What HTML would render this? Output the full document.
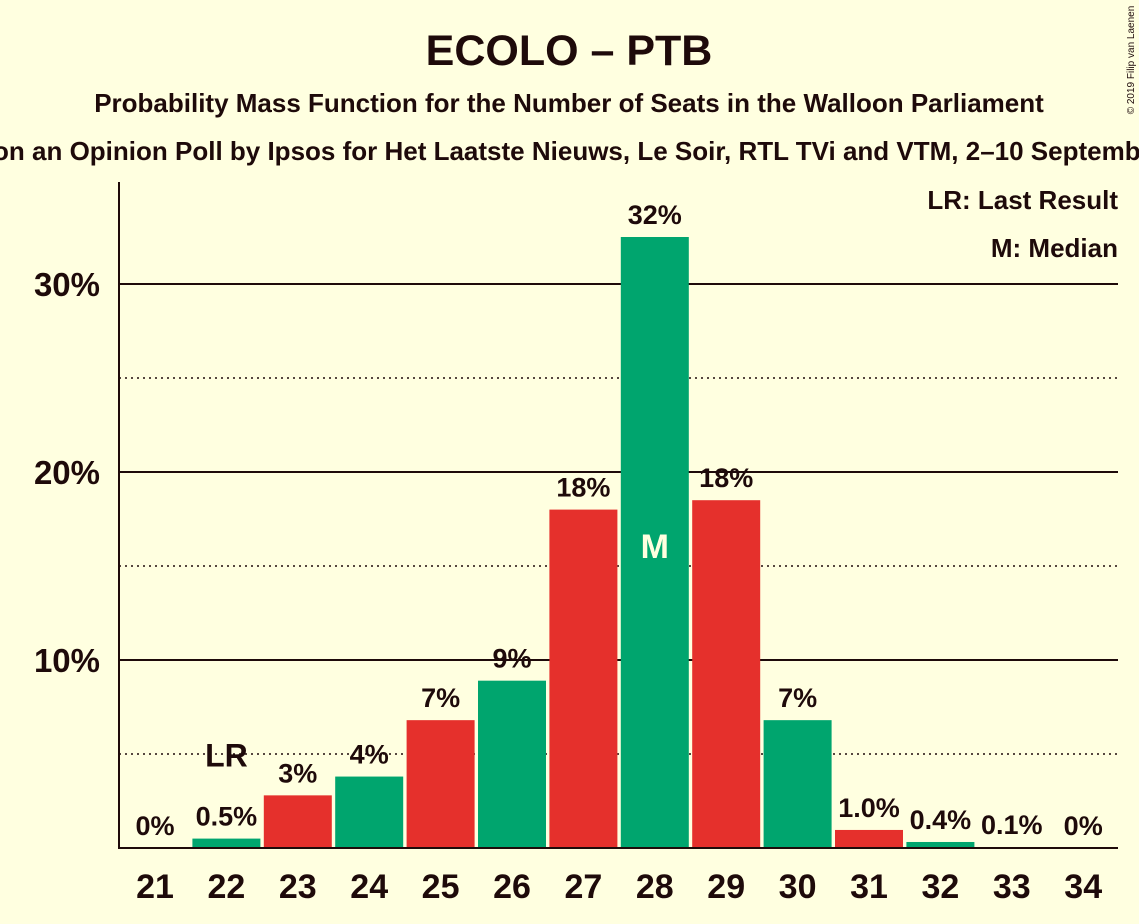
<!DOCTYPE html>
<html><head><meta charset="utf-8"><style>
body{margin:0;background:#ffffe0;}
svg{display:block;font-family:"Liberation Sans",sans-serif;}
</style></head><body>
<svg id="chart" width="1139" height="924" viewBox="0 0 1139 924">
<rect width="1139" height="924" fill="#ffffe0"/>
<text x="569" y="65" text-anchor="middle" font-size="43" font-weight="bold" fill="#1e0a0a">ECOLO – PTB</text>
<text x="569" y="112" text-anchor="middle" font-size="26" font-weight="bold" fill="#1e0a0a">Probability Mass Function for the Number of Seats in the Walloon Parliament</text>
<text x="569" y="160" text-anchor="middle" font-size="26" font-weight="bold" fill="#1e0a0a">Based on an Opinion Poll by Ipsos for Het Laatste Nieuws, Le Soir, RTL TVi and VTM, 2–10 September 2019</text>
<text x="1134" y="60" text-anchor="middle" font-size="10" fill="#1e0a0a" transform="rotate(-90 1134 60)">© 2019 Filip van Laenen</text>
<text x="1118" y="209" text-anchor="end" font-size="26" font-weight="bold" fill="#1e0a0a">LR: Last Result</text>
<text x="1118" y="257" text-anchor="end" font-size="26" font-weight="bold" fill="#1e0a0a">M: Median</text>
<g id="grid"></g><g id="bars"></g><g id="labels"></g>
<line x1="119" y1="182" x2="119" y2="849" stroke="#1e0a0a" stroke-width="2"/>
<line x1="118" y1="848" x2="1118" y2="848" stroke="#1e0a0a" stroke-width="2"/>
</svg>
<script>
const seats=[21,22,23,24,25,26,27,28,29,30,31,32,33,34];
const probs=[0,0.5,2.8,3.8,6.8,8.9,18.0,32.5,18.5,6.8,0.96,0.32,0.05,0];
const valueLabels=["0%","0.5%","3%","4%","7%","9%","18%","32%","18%","7%","1.0%","0.4%","0.1%","0%"];
const majorTicks=[10,20,30];
const minorTicks=[5,15,25];
const lastResult=22, median=28;
const NS="http://www.w3.org/2000/svg";
const y=v=>848-v*18.8;
const xc=s=>155+(s-21)*71.4;
const bw=68;
function mk(tag,attrs,parent){const e=document.createElementNS(NS,tag);for(const k in attrs)e.setAttribute(k,attrs[k]);document.getElementById(parent).appendChild(e);return e;}
majorTicks.forEach(t=>{
 const l=mk('line',{x1:119,x2:1118,y1:y(t),y2:y(t),stroke:'#1e0a0a','stroke-width':2},'grid');
 
 
 const tx=mk('text',{x:100,y:y(t)+12,'text-anchor':'end','font-size':33,'font-weight':'bold',fill:'#1e0a0a'},'grid');
 tx.textContent=t+'%';
 
 
});
minorTicks.forEach(t=>{
 const l=mk('line',{x1:119,x2:1118,y1:y(t),y2:y(t),stroke:'#1e0a0a','stroke-width':1.5,'stroke-dasharray':'2,4'},'grid');
 
 
});
seats.forEach((s,i)=>{
 const v=probs[i];
 if(v>0){
  const r=mk('rect',{x:xc(s)-bw/2,y:y(v),width:bw,height:848-y(v),fill:s%2===0?'#00a56e':'#e5302c'},'bars');
  
  
 }
 const lab=mk('text',{x:xc(s),y:y(v)-13,'text-anchor':'middle','font-size':27,'font-weight':'bold',fill:'#1e0a0a'},'labels');
 lab.textContent=valueLabels[i];
 
 
 const xt=mk('text',{x:xc(s),y:898,'text-anchor':'middle','font-size':34,'font-weight':'bold',fill:'#1e0a0a'},'labels');
 xt.textContent=s;
 
 
 if(s===lastResult){
  const lr=mk('text',{x:xc(s),y:y(v)-72,'text-anchor':'middle','font-size':32,'font-weight':'bold',fill:'#1e0a0a'},'labels');
  lr.textContent='LR';
  
  
 }
 if(s===median){
  const m=mk('text',{x:xc(s),y:558,'text-anchor':'middle','font-size':34,'font-weight':'bold',fill:'#ffffe0'},'labels');
  m.textContent='M';
  
  
 }
});
</script>
</body></html>
